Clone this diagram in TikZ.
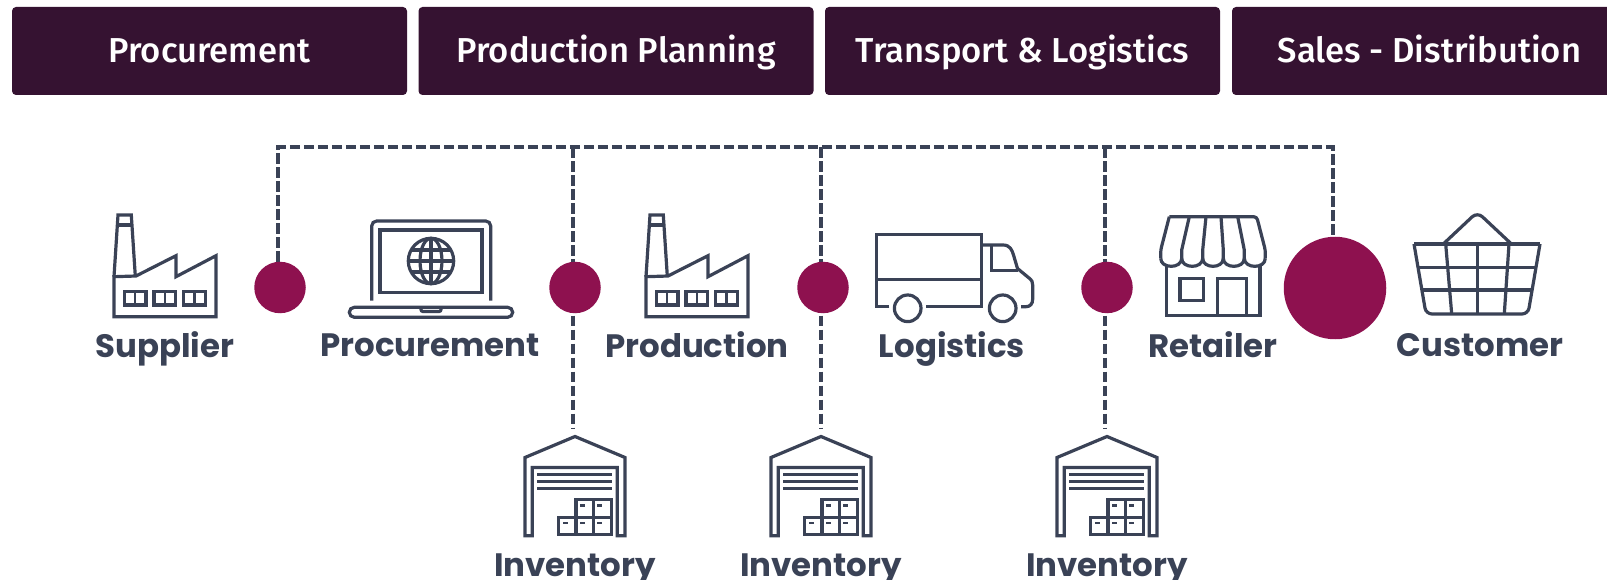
\documentclass[tikz,border=0pt]{standalone}
\usepackage{fontspec}
\usepackage{tikz}
\usetikzlibrary{backgrounds}
\newfontfamily\headfont[UprightFont={* Medium}]{Fira Sans}
\newfontfamily\namefont{Poppins}
\definecolor{headcol}{HTML}{351231}
\definecolor{dotcol}{HTML}{8E114F}
\definecolor{inkcol}{HTML}{3A4256}
\tikzset{
  headbox/.style={fill=headcol, text=white, rounded corners=4pt, minimum width=395pt, minimum height=88pt, text height=26pt, text depth=3.6pt, font=\headfont\fontsize{34.6}{34.6}\selectfont},
  dotnode/.style={circle, fill=dotcol, minimum size=51.5pt, inner sep=0pt},
  namelabel/.style={anchor=base, text=inkcol, inner sep=0pt, font=\namefont\bfseries\fontsize{32.4}{32.4}\selectfont},
  iconline/.style={draw=inkcol, line width=3.2pt, line join=miter},
  dashlink/.style={draw=inkcol, line width=4pt, dash pattern=on 10.5pt off 3.5pt},
  factory/.pic={
    \draw[iconline] (0,101.7) -- (0,61.7) -- (22,61) -- (62,40.7) -- (62,61.7) -- (102,40.7) -- (102,101.7) -- cycle;
    \draw[iconline] (0,61.7) -- (4,0) -- (17.3,0) -- (21.3,61);
    \draw[iconline] (3,10) -- (18,10);
    \foreach \wx in {10.3,40,69.7} {
      \draw[iconline] (\wx,76.7) rectangle ++(21.7,13.3);
      \draw[iconline, line width=2.4pt] (\wx+10.8,76.7) -- ++(0,13.3);
    }
  },
  warehouse/.pic={
    \draw[iconline] (0,99.3) -- (0,21) -- (50,0) -- (100,21) -- (100,99.3) -- (92.3,99.3) -- (92.3,31) -- (7.3,31) -- (7.3,99.3) -- cycle;
    \foreach \by in {37.7,44.7,51.7}
      \draw[iconline] (12.3,\by) -- (87,\by);
    % Boxes
    \draw[iconline] (51,63.3) rectangle (68.3,81);
    \draw[iconline] (68.3,63.3) rectangle (86.3,81);
    \draw[iconline] (33.7,81) rectangle (51,98.3);
    \draw[iconline] (51,81) rectangle (68.3,98.3);
    \draw[iconline] (68.3,81) rectangle (86.3,98.3);
    \foreach \tx/\ty in {55/67.5,72/67.5,38/85,55/85,72/85}
      \fill[inkcol] (\tx,\ty) rectangle ++(4.8,2.8);
  }
}
\begin{document}
\begin{tikzpicture}[x=1pt, y=-1pt]
  \useasboundingbox (0,0) rectangle (1607,580);
  \clip (0,0) rectangle (1607,580);

  % Header boxes
  \node[headbox] (headproc) at (209.5,51) {Procurement};
  \node[headbox] (headplan) at (616,51) {Production Planning};
  \node[headbox] (headtrans) at (1022.5,51) {Transport \& Logistics};
  \node[headbox] (headsales) at (1429.5,51) {Sales - Distribution};

  % Dots
  \node[dotnode] (dotsupply) at (280,287.5) {};
  \node[dotnode] (dotproc) at (575,287.5) {};
  \node[dotnode] (dotprod) at (823,287.5) {};
  \node[dotnode] (dotlog) at (1107,287.5) {};
  \node[dotnode, minimum size=102.5pt] (dotretail) at (1335,288) {};

  % Dashed links
  \coordinate (topsupply) at (278,147.5);
  \coordinate (topproc) at (573,147.5);
  \coordinate (topprod) at (821,147.5);
  \coordinate (toplog) at (1105,147.5);
  \coordinate (topretail) at (1333,147.5);
  \coordinate (dropproc) at (573,428);
  \coordinate (dropprod) at (821,428);
  \coordinate (droplog) at (1105,428);
  \begin{scope}[on background layer]
    \draw[dashlink] (dotsupply.north -| topsupply) -- (topsupply) -- (topretail) -- (dotretail.north -| topretail);
    \draw[dashlink] (topproc) -- (dropproc);
    \draw[dashlink] (topprod) -- (dropprod);
    \draw[dashlink] (toplog) -- (droplog);
  \end{scope}

  % Factories
  \pic at (114,215) {factory};
  \pic at (646,215) {factory};

  % Laptop
  \draw[iconline] (371.7,300.7) -- (371.7,226) [rounded corners=5pt] -- (371.7,221) -- (490.7,221) [sharp corners] -- (490.7,226) -- (490.7,300.7);
  \draw[iconline] (380,230) rectangle (482,292.3);
  \draw[iconline] (431,261) circle (22.7);
  \draw[iconline] (431,261) ellipse (11 and 22.7);
  \draw[iconline] (431,238.3) -- (431,283.7);
  \draw[iconline] (408.3,261) -- (453.7,261);
  \draw[iconline] (411,250) -- (451,250);
  \draw[iconline] (411,272) -- (451,272);
  \draw[iconline, rounded corners=5pt] (349.3,307.3) -- (349.3,317.3) -- (512.7,317.3) -- (512.7,307.3) -- cycle;
  \draw[iconline, rounded corners=2pt] (421,307.3) -- (421,311.5) -- (441,311.5) -- (441,307.3);

  % Truck
  \draw[iconline] (889.3,306.7) -- (876.7,306.7) -- (876.7,234.3) -- (981.7,234.3) -- (981.7,306.7) -- (926,306.7);
  \draw[iconline] (876.7,279.3) -- (981.7,279.3);
  \draw[iconline] (907.7,308.3) circle (13.3);
  \draw[iconline] (1002.7,308.3) circle (13.3);
  \draw[iconline] (981.7,245) -- (1003,245) .. controls (1010,245) and (1012,250) .. (1013.5,255) -- (1017.5,268.5) -- (1029,278) .. controls (1032,280.5) and (1032.7,282) .. (1032.7,285) -- (1032.7,299) .. controls (1032.7,304) and (1030,306.7) .. (1026,306.7) -- (1021,306.7);
  \draw[iconline] (991.7,245) -- (991.7,270.7) -- (1017.7,270.7);

  % Store
  \draw[iconline, rounded corners=3pt] (1169.3,216.7) -- (1256.7,216.7) -- (1265.3,250) -- (1265.3,258.3);
  \draw[iconline, rounded corners=3pt] (1169.3,216.7) -- (1160.7,250) -- (1160.7,258.3);
  \foreach \ra/\rb in {1160.7/1181.7,1181.7/1202.7,1202.7/1223.3,1223.3/1244.3,1244.3/1265.3} {
    \draw[iconline] (\ra,258.3) .. controls (\ra,269) and (\rb,269) .. (\rb,258.3);
  }
  \foreach \rb/\rt in {1181.7/1189.3,1202.7/1206,1223.3/1221,1244.3/1237.7}
    \draw[iconline] (\rt,216.7) -- (\rb,250) -- (\rb,258.3);
  \draw[iconline] (1166.7,266) -- (1166.7,315.7) -- (1260,315.7) -- (1260,266);
  \draw[iconline] (1180,278.3) rectangle (1203.3,300.7);
  \draw[iconline] (1217.3,315.7) -- (1217.3,278.3) -- (1246.7,278.3) -- (1246.7,315.7);

  % Basket
  \draw[iconline] (1414,244) -- (1540,244);
  \draw[iconline, rounded corners=6pt] (1414,244) -- (1426,314) -- (1528,314) -- (1540,244);
  \draw[iconline] (1418.3,267.7) -- (1535.5,267.7);
  \draw[iconline] (1422.3,290) -- (1531.7,290);
  \draw[iconline] (1445.7,244) -- (1451.7,314);
  \draw[iconline] (1477.3,244) -- (1477.3,314);
  \draw[iconline] (1509,244) -- (1504.3,314);
  \draw[iconline, rounded corners=7pt] (1444,243.3) -- (1477.3,212) -- (1510.7,243.3);

  % Warehouses
  \pic at (525,436.5) {warehouse};
  \pic at (771,436.5) {warehouse};
  \pic at (1057,436.5) {warehouse};

  % Labels
  \node[namelabel] (namesupply) at (165,357.5) {Supplier};
  \node[namelabel] (nameproc) at (430,356) {Procurement};
  \node[namelabel] (nameprod) at (697,357.5) {Production};
  \node[namelabel] (namelog) at (952,357.5) {Logistics};
  \node[namelabel] (nameretail) at (1213,357.5) {Retailer};
  \node[namelabel] (namecust) at (1480,356) {Customer};
  \node[namelabel] (nameinva) at (575,576) {Inventory};
  \node[namelabel] (nameinvb) at (821,576) {Inventory};
  \node[namelabel] (nameinvc) at (1107,576) {Inventory};
\end{tikzpicture}
\end{document}
